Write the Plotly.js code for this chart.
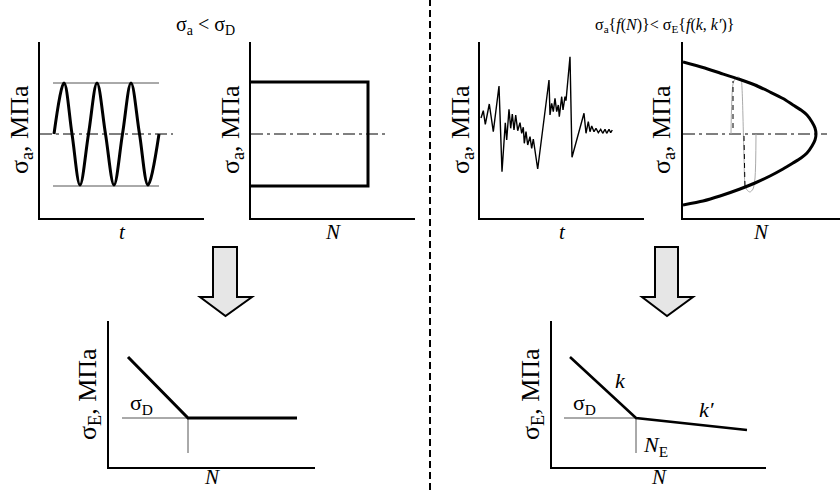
<!DOCTYPE html>
<html><head><meta charset="utf-8">
<script src="https://cdn.plot.ly/plotly-3.0.1.min.js"></script>
<style>html,body{margin:0;padding:0;background:#fff}#chart{width:840px;height:490px}</style>
</head><body><div id="chart"></div>
<script>
// ---------- DATA (panel-local schematic units) ----------
// Panel 1: harmonic loading sigma_a(t)
const sineT = [14, 24, 32, 40, 48.5, 57, 65.5, 74, 82.5, 91, 99.5, 108, 119];
const sineS = [84, 135, 84, 33, 84, 135, 84, 33, 84, 135, 84, 33, 84];
const bandT = [13, 119];
const bandUpper = [135, 135];
const bandLower = [32, 32];
const meanT1 = [0, 133];
const meanS1 = [84, 84];
// Panel 2: constant amplitude vs N
const blockN = [0, 117, 117, 0];
const blockS = [136, 136, 32, 32];
const meanN2 = [0, 134];
const meanS2 = [84, 84];
// Panel 3: random (variable amplitude) loading
const noiseT = [1, 3.3, 5.3, 9.3, 13.3, 19, 22, 25.3, 26.7, 29, 30.7, 32.3, 34, 35.7, 37.7, 40, 41.7, 43.3, 44.3, 46, 47.7, 50, 51.7, 53.3, 57.7, 69, 70, 71.7, 73.3, 75, 76.7, 78.3, 79.3, 81.7, 83, 85, 86, 90, 92, 104, 106, 108.3, 110, 111.7, 114, 116, 118.3, 120.7, 122.7, 125, 126.7, 129, 130.7, 132.3];
const noiseS = [100, 107.3, 93.7, 114, 86.3, 132, 46.3, 95.3, 78, 108.7, 89.7, 104, 88, 103, 87.3, 95.3, 84.7, 90.7, 74.7, 86.3, 73, 81.3, 69.7, 79, 49, 138, 103, 114.7, 106.3, 119.7, 106.3, 113, 101.3, 121.3, 108, 121.3, 117.3, 161.3, 60.7, 104.7, 84.7, 96.3, 86.3, 92, 86.3, 89.7, 85.3, 88.7, 84.7, 88.7, 84.7, 88.7, 85.3, 88];
// Panel 4: amplitude envelope vs N
const envN = [0, 20, 37, 57, 72, 87, 100, 110, 118, 124, 129, 132, 133, 132, 129, 124, 118, 110, 100, 87, 72, 57, 37, 20, 0];
const envS = [156, 150.5, 145, 138.5, 133, 126, 119.5, 113, 108, 103, 96, 90, 84, 78, 72, 65, 60, 55, 49, 42, 35, 29, 22, 17, 13];
const meanN4 = [0, 144];
const meanS4 = [84, 84];
const loopN = [48, 50, 52, 55, 58, 59, 61, 62, 64, 67, 70, 72, 73];
const loopS = [84, 134, 139, 141, 139, 130, 60, 34, 28, 26, 29, 40, 84];
const markAN = [50, 50];
const markAS = [90, 137];
const markBN = [61, 62];
const markBS = [82, 28];
// Panel 5: S-N curve with endurance limit
const snN1 = [19, 79, 188];
const snS1 = [110, 49, 49];
const refHN1 = [13, 79];
const refHS1 = [49, 49];
const refVN1 = [79, 79];
const refVS1 = [49, 14];
// Panel 6: S-N curve with slopes k, k'
const snN2 = [18, 84, 195];
const snS2 = [110, 49, 37];
const refHN2 = [12, 84];
const refHS2 = [49, 49];
const refVN2 = [84, 84];
const refVS2 = [49, 14];

// ---------- LAYOUT HELPERS ----------
const W = 840, H = 490;
const FONT = 'Liberation Serif';
const px = x => x / W;
const py = y => 1 - y / H;

const traces = [];
function add(n, x, y, opts) {
  const s = n === 1 ? '' : n;
  traces.push(Object.assign({type: 'scatter', mode: 'lines', x: x, y: y,
    xaxis: 'x' + s, yaxis: 'y' + s, hoverinfo: 'skip', showlegend: false,
    line: {color: '#000', width: 3}}, opts || {}));
}
const thick = {color: '#000', width: 3};
const thin = {color: '#555', width: 1};
const dashdot = {color: '#000', width: 1, dash: '12px,4px,3px,4px'};

add(1, bandT, bandUpper, {line: thin});
add(1, bandT, bandLower, {line: thin});
add(1, meanT1, meanS1, {line: dashdot});
add(1, sineT, sineS, {line: Object.assign({shape: 'spline', smoothing: 1}, thick)});

add(2, meanN2, meanS2, {line: dashdot});
add(2, blockN, blockS, {line: thick});

add(3, noiseT, noiseS, {line: {color: '#000', width: 1.4}});

add(4, meanN4, meanS4, {line: dashdot});
add(4, loopN, loopS, {line: {color: '#aaa', width: 1, shape: 'spline', smoothing: 0.8}});
add(4, markAN, markAS, {line: {color: '#000', width: 1, dash: '5px,4px'}});
add(4, markBN, markBS, {line: {color: '#000', width: 1, dash: '5px,4px'}});
add(4, envN, envS, {line: {color: '#000', width: 3, shape: 'spline', smoothing: 0.6}});

add(5, refHN1, refHS1, {line: thin});
add(5, refVN1, refVS1, {line: thin});
add(5, snN1, snS1, {line: thick});

add(6, refHN2, refHS2, {line: thin});
add(6, refVN2, refVS2, {line: thin});
add(6, snN2, snS2, {line: {color: '#000', width: 2.6}});

const panels = [
  {x0: 40, x1: 204, y0: 42, y1: 218},
  {x0: 251, x1: 415, y0: 42, y1: 218},
  {x0: 480, x1: 644, y0: 42, y1: 218},
  {x0: 683, x1: 840, y0: 42, y1: 218},
  {x0: 109, x1: 315, y0: 321, y1: 467},
  {x0: 552, x1: 766, y0: 321, y1: 467}
];

const layout = {
  width: W, height: H,
  margin: {l: 0, r: 0, t: 0, b: 0},
  paper_bgcolor: '#fff', plot_bgcolor: '#fff',
  showlegend: false, hovermode: false,
  annotations: [], shapes: []
};
panels.forEach((p, i) => {
  const s = i === 0 ? '' : (i + 1);
  const ax = {showline: true, linewidth: 2, linecolor: '#000', showgrid: false,
    zeroline: false, showticklabels: false, ticks: '', fixedrange: true};
  layout['xaxis' + s] = Object.assign({domain: [px(p.x0), px(p.x1)], range: [0, p.x1 - p.x0],
    anchor: 'y' + s}, ax);
  layout['yaxis' + s] = Object.assign({domain: [py(p.y1), py(p.y0)], range: [0, p.y1 - p.y0],
    anchor: 'x' + s}, ax);
});

function ann(x, y, text, size, angle) {
  const a = {xref: 'paper', yref: 'paper', x: px(x), y: py(y),
    text: text, showarrow: false, xanchor: 'center', yanchor: 'middle',
    font: {family: FONT, size: size, color: '#000'}};
  if (angle) a.textangle = angle;
  layout.annotations.push(a);
}
// titles
ann(205, 26, 'σ<sub>a</sub> &lt; σ<sub>D</sub>', 20);
ann(664, 26, 'σ<sub>a</sub>{<i>f</i>(<i>N</i>)}&lt; σ<sub>E</sub>{<i>f</i>(<i>k</i>, <i>k′</i>)}', 16);
// y-axis labels
const ySa = 'σ<sub>a</sub>, МПа', ySE = 'σ<sub>E</sub>, МПа';
ann(21, 130, ySa, 26, -90);
ann(232, 130, ySa, 26, -90);
ann(462, 130, ySa, 26, -90);
ann(663, 130, ySa, 26, -90);
ann(89, 394, ySE, 26, -90);
ann(532, 394, ySE, 26, -90);
// x-axis labels
ann(122, 232, '<i>t</i>', 21);
ann(333, 232, '<i>N</i>', 21);
ann(562, 232, '<i>t</i>', 21);
ann(761, 232, '<i>N</i>', 21);
ann(212, 477, '<i>N</i>', 21);
ann(659, 477, '<i>N</i>', 21);
// inner labels
ann(141, 404, 'σ<sub>D</sub>', 22);
ann(584, 404, 'σ<sub>D</sub>', 22);
ann(620, 380, '<i>k</i>', 22);
ann(707, 409, '<i>k′</i>', 22);
ann(655, 446, '<i>N</i><sub>E</sub>', 22);

// separator
layout.shapes.push({type: 'line', xref: 'paper', yref: 'paper', x0: px(430), x1: px(430), y0: 0, y1: 1,
  line: {color: '#000', width: 2, dash: '7px,4px'}});
// arrows
function arrow(shaftL, shaftR, headL, headR, tipX, top, headY, tipY) {
  const pts = [[shaftL, top], [shaftR, top], [shaftR, headY], [headR, headY], [tipX, tipY], [headL, headY], [shaftL, headY]];
  const d = 'M' + pts.map(q => px(q[0]) + ',' + py(q[1])).join(' L') + ' Z';
  layout.shapes.push({type: 'path', xref: 'paper', yref: 'paper', path: d,
    fillcolor: '#e6e6e6', line: {color: '#000', width: 2}});
}
arrow(213, 237, 200, 252, 225.5, 247, 297, 316);
arrow(655, 678, 642, 693, 667, 247, 297, 316);

Plotly.newPlot('chart', traces, layout, {staticPlot: true});
</script>
</body></html>
